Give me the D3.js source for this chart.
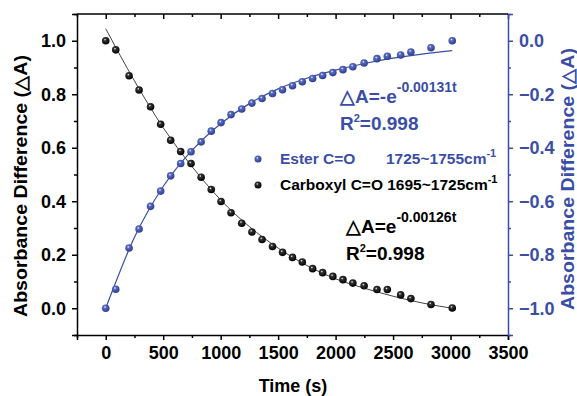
<!DOCTYPE html>
<html>
<head>
<meta charset="utf-8">
<script src="https://cdn.jsdelivr.net/npm/d3@7"></script>
<style>
  body { margin: 0; background: #fff; }
  text { font-family: "Liberation Sans", Arial, sans-serif; font-weight: bold; }
</style>
</head>
<body>
<div id="chart"></div>
<script>
// measured times (s), shared by both series
const times = [0, 87, 203, 290, 390, 478, 565, 652, 742, 830, 918, 1003, 1090, 1183, 1272, 1360,
    1451, 1538, 1625, 1710, 1800, 1887, 1976, 2064, 2150, 2248, 2360, 2450, 2566, 2655, 2830, 3015];

// carboxyl C=O, left axis
const carboxyl = [1.0, 0.966, 0.869, 0.816, 0.753, 0.688, 0.628, 0.586, 0.541, 0.490, 0.444, 0.399,
    0.357, 0.318, 0.285, 0.257, 0.231, 0.209, 0.190, 0.173, 0.148, 0.133, 0.119, 0.107, 0.094,
    0.084, 0.070, 0.070, 0.050, 0.036, 0.014, 0.001];

// ester C=O, right axis
const ester = [-1.0, -0.929, -0.775, -0.704, -0.619, -0.562, -0.505, -0.459, -0.415, -0.378, -0.338,
    -0.306, -0.276, -0.255, -0.233, -0.216, -0.197, -0.183, -0.168, -0.153, -0.141, -0.130, -0.119,
    -0.108, -0.097, -0.083, -0.067, -0.058, -0.053, -0.042, -0.026, 0.0];

// fitted curves
const fitTimes = [0, 250, 500, 750, 1000, 1250, 1500, 1750, 2000, 2250, 2500, 2750, 3015];
const carboxylFit = [1.045, 0.85, 0.675, 0.53, 0.405, 0.305, 0.225, 0.16, 0.11, 0.075, 0.045, 0.02, 0.0];
const esterFit = [-1.0, -0.735, -0.545, -0.41, -0.31, -0.235, -0.18, -0.14, -0.11, -0.085, -0.065, -0.05, -0.037];

const xTicks = [0, 500, 1000, 1500, 2000, 2500, 3000, 3500];
const leftTicks = [0.0, 0.2, 0.4, 0.6, 0.8, 1.0];
const rightTicks = [-1.0, -0.8, -0.6, -0.4, -0.2, 0.0];

const w = 577, h = 396;
const blue = '#3a4ea6';

const svg = d3.select('#chart').append('svg')
    .attr('width', w)
    .attr('height', h);

const x = d3.scaleLinear().domain([-250, 3500]).range([77, 508]);
const yL = d3.scaleLinear().domain([-0.1, 1.1]).range([335, 14]);
const yR = d3.scaleLinear().domain([-1.1, 0.1]).range([335, 14]);

// sphere-like dots
const defs = svg.append('defs');
function ball(id, c0, c1) {
    const g = defs.append('radialGradient').attr('id', id)
        .attr('cx', '40%').attr('cy', '35%').attr('r', '65%');
    g.append('stop').attr('offset', '0%').attr('stop-color', '#ffffff');
    g.append('stop').attr('offset', '25%').attr('stop-color', c0);
    g.append('stop').attr('offset', '100%').attr('stop-color', c1);
}
ball('gBlack', '#333', '#000');
ball('gBlue', '#5a6cc0', '#2c3d90');

// axes
const fmt = d3.format('.1f');
const minorX = d3.range(-250, 3500, 500);
const axBottom = svg.append('g').attr('transform', 'translate(0,335)')
    .call(d3.axisBottom(x).tickValues(xTicks).tickSize(5).tickPadding(6).tickFormat(d3.format('d')));
const axBottomMinor = svg.append('g').attr('transform', 'translate(0,335)')
    .call(d3.axisBottom(x).tickValues(minorX).tickSize(3).tickFormat(''));
const axTop = svg.append('g').attr('transform', 'translate(0,14)')
    .call(d3.axisTop(x).tickValues(xTicks).tickSize(-5).tickFormat(''));
const axTopMinor = svg.append('g').attr('transform', 'translate(0,14)')
    .call(d3.axisTop(x).tickValues(minorX).tickSize(-3).tickFormat(''));
const axLeft = svg.append('g').attr('transform', 'translate(77,0)')
    .call(d3.axisLeft(yL).tickValues(leftTicks).tickSize(5).tickPadding(6).tickFormat(fmt));
const axLeftMinor = svg.append('g').attr('transform', 'translate(77,0)')
    .call(d3.axisLeft(yL).tickValues([-0.1, 0.1, 0.3, 0.5, 0.7, 0.9, 1.1]).tickSize(3).tickFormat(''));
const axRight = svg.append('g').attr('transform', 'translate(508,0)')
    .call(d3.axisRight(yR).tickValues(rightTicks).tickSize(5).tickPadding(6).tickFormat(fmt));
const axRightMinor = svg.append('g').attr('transform', 'translate(508,0)')
    .call(d3.axisRight(yR).tickValues([-1.1, -0.9, -0.7, -0.5, -0.3, -0.1, 0.1]).tickSize(3).tickFormat(''));

[axBottom, axBottomMinor, axTop, axTopMinor, axLeft, axLeftMinor].forEach(g => {
    g.selectAll('path, line').attr('stroke', '#000').attr('stroke-width', 1.5);
    g.selectAll('text').attr('fill', '#000').style('font-size', '18px');
});
[axRight, axRightMinor].forEach(g => {
    g.selectAll('path, line').attr('stroke', blue).attr('stroke-width', 1.5);
    g.selectAll('text').attr('fill', blue).style('font-size', '18px');
});
[axBottomMinor, axTopMinor, axLeftMinor, axRightMinor, axTop].forEach(g => g.select('.domain').remove());
svg.append('line').attr('x1', 77).attr('x2', 508).attr('y1', 14).attr('y2', 14)
    .attr('stroke', '#000').attr('stroke-width', 1.5);

// fit curves
const lineL = d3.line().x((d, i) => x(fitTimes[i])).y(d => yL(d)).curve(d3.curveMonotoneX);
const lineR = d3.line().x((d, i) => x(fitTimes[i])).y(d => yR(d)).curve(d3.curveMonotoneX);
svg.append('path').datum(carboxylFit).attr('d', lineL)
    .attr('fill', 'none').attr('stroke', '#444').attr('stroke-width', 1);
svg.append('path').datum(esterFit).attr('d', lineR)
    .attr('fill', 'none').attr('stroke', blue).attr('stroke-width', 1.2);

// points
svg.append('g').selectAll('circle').data(carboxyl).enter().append('circle')
    .attr('cx', (d, i) => x(times[i])).attr('cy', d => yL(d)).attr('r', 3.8)
    .attr('fill', 'url(#gBlack)');
svg.append('g').selectAll('circle').data(ester).enter().append('circle')
    .attr('cx', (d, i) => x(times[i])).attr('cy', d => yR(d)).attr('r', 3.8)
    .attr('fill', 'url(#gBlue)');

// axis titles (squeezed to the reference width)
svg.append('text').attr('transform', 'translate(27,186) rotate(-90)')
    .attr('text-anchor', 'middle').style('font-size', '18px').attr('fill', '#000')
    .attr('textLength', 262).attr('lengthAdjust', 'spacingAndGlyphs')
    .text('Absorbance Difference (△A)');
svg.append('text').attr('transform', 'translate(574,179) rotate(-90)')
    .attr('text-anchor', 'middle').style('font-size', '18px').attr('fill', blue)
    .attr('textLength', 262).attr('lengthAdjust', 'spacingAndGlyphs')
    .text('Absorbance Difference (△A)');
svg.append('text').attr('x', 293).attr('y', 392).attr('text-anchor', 'middle')
    .style('font-size', '18px').attr('fill', '#000').text('Time (s)');

// legend
svg.append('circle').attr('cx', 258).attr('cy', 159).attr('r', 3.5).attr('fill', 'url(#gBlue)');
svg.append('circle').attr('cx', 258).attr('cy', 185).attr('r', 3.5).attr('fill', 'url(#gBlack)');
const leg1 = svg.append('text').attr('y', 164).attr('fill', blue).style('font-size', '15.5px');
leg1.append('tspan').attr('x', 280).text('Ester C=O');
leg1.append('tspan').attr('x', 386).text('1725~1755cm');
leg1.append('tspan').attr('dy', -7).style('font-size', '11px').text('-1');
const leg2 = svg.append('text').attr('y', 190).attr('fill', '#000').style('font-size', '15.5px');
leg2.append('tspan').attr('x', 280).text('Carboxyl C=O 1695~1725cm');
leg2.append('tspan').attr('dy', -7).style('font-size', '11px').text('-1');

// equations
function equation(x0, y0, color, base, exp) {
    const t = svg.append('text').attr('x', x0).attr('y', y0).attr('fill', color).style('font-size', '19px');
    t.append('tspan').text(base);
    t.append('tspan').attr('dy', -11).style('font-size', '14px').text(exp);
    const r = svg.append('text').attr('x', x0).attr('y', y0 + 27).attr('fill', color).style('font-size', '19px');
    r.append('tspan').text('R');
    r.append('tspan').attr('dy', -8).style('font-size', '11px').text('2');
    r.append('tspan').attr('dy', 8).text('=0.998');
}
equation(340, 103, blue, '△A=-e', '-0.00131t');
equation(346, 233, '#000', '△A=e', '-0.00126t');
</script>
</body>
</html>
